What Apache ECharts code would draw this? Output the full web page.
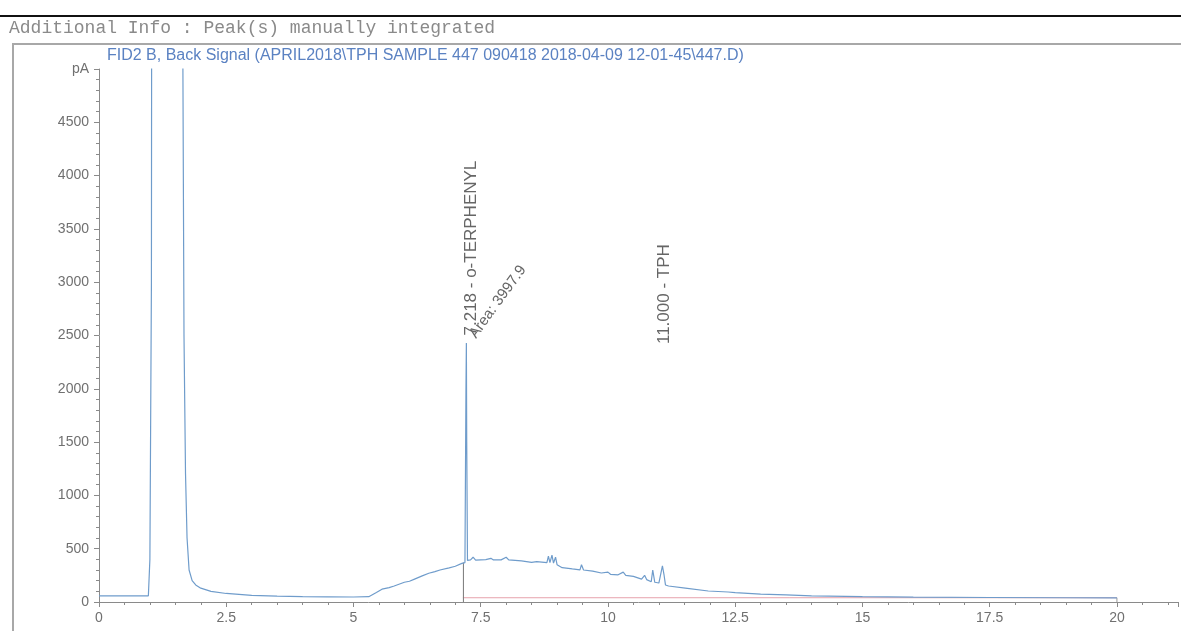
<!DOCTYPE html>
<html>
<head>
<meta charset="utf-8">
<script src="https://cdn.jsdelivr.net/npm/echarts@6/dist/echarts.min.js"></script>
<style>html,body{margin:0;padding:0;background:#fff;}#c{width:1181px;height:631px;}</style>
</head>
<body>
<div id="c"></div>
<script>
// Retention time (min)
var times = [0,0.5,0.97,1.0,1.03,1.06,1.3,1.6,1.64,1.67,1.70,1.73,1.77,1.83,1.9,2.0,2.2,2.5,3.0,3.5,4.0,4.5,5.0,5.3,5.45,5.56,5.7,5.8,6.0,6.1,6.2,6.35,6.48,6.6,6.7,6.88,7.0,7.13,7.19,7.21,7.218,7.225,7.24,7.3,7.35,7.4,7.6,7.7,7.75,7.9,8.0,8.05,8.3,8.5,8.6,8.8,8.83,8.86,8.9,8.93,8.97,9.0,9.1,9.3,9.45,9.48,9.52,9.7,9.87,10.0,10.05,10.2,10.3,10.35,10.5,10.66,10.72,10.76,10.85,10.88,10.92,11.0,11.07,11.1,11.13,11.19,11.52,11.97,12.36,12.5,13.0,13.5,14.0,15.0,16.0,17.5,19.0,20.0];
// Signal (pA)
var signal = [58,58,58,400,3000,20000,60000,30000,6000,2500,1200,600,300,200,160,130,100,80,62,55,50,48,47,50,90,120,135,150,185,195,215,245,270,285,300,320,335,362,370,2000,2430,1500,390,395,420,392,398,410,395,395,420,395,385,372,378,370,430,370,440,365,420,350,322,310,302,350,300,290,272,280,260,255,280,250,240,215,250,210,190,300,185,178,340,260,160,150,130,103,94,88,74,66,58,50,45,42,40,38];
// Integration baseline
var baseTimes = [7.15, 20];
var baseValues = [40, 40];
// Axis ticks
var yTickLabels = ['0','500','1000','1500','2000','2500','3000','3500','4000','4500','pA'];
// Peak annotations
var peakLabels = [
  {t: 7.218, v: 2500, text: '7.218 - o-TERPHENYL', rot: 90, size: 17},
  {t: 7.3, v: 2490, text: 'Area: 3997.9', rot: 54, size: 15},
  {t: 11.0, v: 2420, text: '11.000 - TPH', rot: 90, size: 17}
];
var headerText = 'Additional Info : Peak(s) manually integrated';
var titleText = 'FID2 B, Back Signal (APRIL2018\\TPH SAMPLE 447 090418 2018-04-09 12-01-45\\447.D)';

var sig = times.map(function(t,i){return [t, signal[i]];});
var base = baseTimes.map(function(t,i){return [t, baseValues[i]];});

var chart = echarts.init(document.getElementById('c'), null, {renderer:'canvas'});
var axisCol = '#8a8a8a';
var labCol = '#707070';
chart.setOption({
  animation: false,
  backgroundColor: '#fff',
  grid: {left: 99, right: 0, top: 69, bottom: 29},
  xAxis: {
    type: 'value', min: 0, max: 21.2, interval: 2.5,
    axisLine: {onZero: false, lineStyle: {color: axisCol, width: 1}},
    axisTick: {show: true, inside: false, length: 5, lineStyle: {color: axisCol}},
    minorTick: {show: true, splitNumber: 5, length: 3, lineStyle: {color: axisCol}},
    splitLine: {show: false},
    axisLabel: {color: labCol, fontSize: 14, fontFamily: 'Liberation Sans', margin: 9,
      formatter: function(v){ return v > 20.01 ? '' : String(v); }}
  },
  yAxis: {
    type: 'value', min: 0, max: 5000, interval: 500,
    axisLine: {show: true, lineStyle: {color: axisCol, width: 1}},
    axisTick: {show: true, inside: false, length: 5, lineStyle: {color: axisCol}},
    minorTick: {show: true, splitNumber: 5, length: 3, lineStyle: {color: axisCol}},
    splitLine: {show: false},
    axisLabel: {color: labCol, fontSize: 14, fontFamily: 'Liberation Sans', margin: 10,
      formatter: function(v){ return yTickLabels[Math.round(v/500)]; }}
  },
  series: [
    {type: 'line', data: base, symbol: 'none', silent: true, clip: true,
      lineStyle: {color: '#e7a3ad', width: 1}},
    {type: 'line', data: [[20, 40],[20, 0]], symbol: 'none', silent: true,
      lineStyle: {color: '#999', width: 1}},
    {type: 'line', data: [[7.16, 0],[7.16, 370]], symbol: 'none', silent: true,
      lineStyle: {color: '#777', width: 1}},
    {type: 'line', data: sig, symbol: 'none', clip: true, silent: true,
      lineStyle: {color: '#6f9ccb', width: 1.2}}
  ]
});

var g = [
  {type: 'line', shape: {x1: 0, y1: 16, x2: 1181, y2: 16}, style: {stroke: '#111', lineWidth: 2}},
  {type: 'text', x: 9, y: 28, style: {text: headerText, font: '18px "Liberation Mono"', fill: '#8a8a8a', textVerticalAlign: 'middle'}},
  {type: 'polyline', shape: {points: [[13,631],[13,44],[1181,44]]}, style: {stroke: '#a8a8a8', lineWidth: 2, fill: null}},
  {type: 'text', x: 107, y: 56, style: {text: titleText, font: '16px "Liberation Sans"', fill: '#5b82c2', textVerticalAlign: 'middle'}}
];
peakLabels.forEach(function(p){
  var px = chart.convertToPixel({gridIndex: 0}, [p.t, p.v]);
  g.push({type: 'text', x: px[0] + (p.rot === 90 ? 5 : 2), y: px[1], rotation: p.rot * Math.PI / 180,
    style: {text: p.text, font: p.size + 'px "Liberation Sans"', fill: '#666', textAlign: 'left', textVerticalAlign: 'middle'}});
});
chart.setOption({graphic: g});
</script>
</body>
</html>
